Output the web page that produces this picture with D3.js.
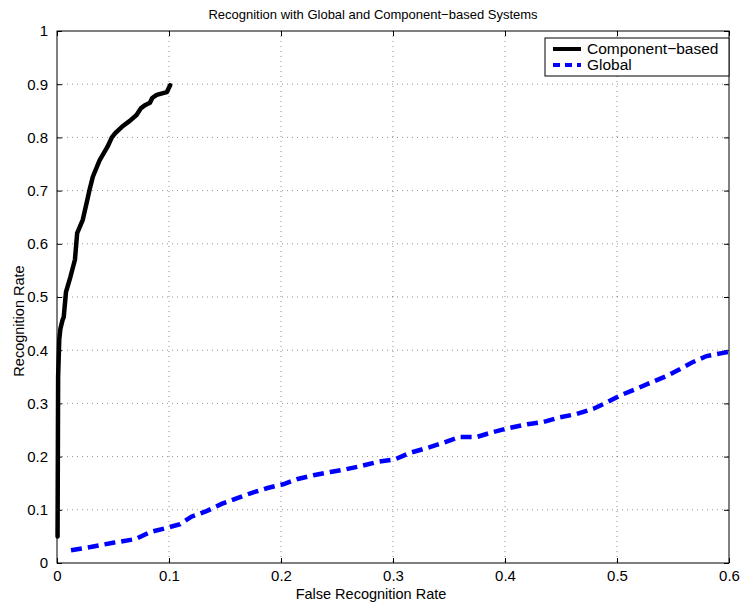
<!DOCTYPE html>
<meta charset="utf-8">
<script src="https://d3js.org/d3.v7.min.js"></script>
<style>
  body { margin: 0; background: #fff; }
  text { font-family: "Liberation Sans", Arial, Helvetica, sans-serif; }
</style>
<div id="chart"></div>
<script>

// Data
var compX = [0.0005, 0.001, 0.002, 0.003, 0.005, 0.006, 0.008, 0.012, 0.016, 0.018, 0.023, 0.027, 0.029, 0.032,
             0.038, 0.045, 0.049, 0.052, 0.058, 0.065, 0.071, 0.075, 0.079, 0.083, 0.085, 0.089, 0.098, 0.101];
var compY = [0.05, 0.35, 0.42, 0.44, 0.457, 0.462, 0.509, 0.538, 0.57, 0.62, 0.645, 0.682, 0.701, 0.726,
             0.757, 0.782, 0.8, 0.808, 0.82, 0.831, 0.842, 0.855, 0.861, 0.865, 0.874, 0.88, 0.885, 0.898];

var globX = [0.0125, 0.03, 0.05, 0.07, 0.083, 0.098, 0.11, 0.12, 0.134, 0.147, 0.161, 0.174, 0.188, 0.202,
             0.215, 0.229, 0.244, 0.255, 0.271, 0.286, 0.302, 0.315, 0.33, 0.345, 0.36, 0.375, 0.389, 0.404,
             0.42, 0.434, 0.449, 0.464, 0.479, 0.492, 0.504, 0.518, 0.529, 0.545, 0.556, 0.568, 0.58, 0.595, 0.6];
var globY = [0.024, 0.03, 0.038, 0.045, 0.058, 0.066, 0.073, 0.087, 0.098, 0.111, 0.122, 0.132, 0.141, 0.148,
             0.158, 0.165, 0.171, 0.175, 0.182, 0.19, 0.195, 0.207, 0.216, 0.226, 0.237, 0.237, 0.246, 0.254,
             0.261, 0.265, 0.274, 0.28, 0.29, 0.303, 0.316, 0.328, 0.338, 0.352, 0.364, 0.378, 0.389, 0.395, 0.397];

var xTicks = [0, 0.1, 0.2, 0.3, 0.4, 0.5, 0.6];
var yTicks = [0, 0.1, 0.2, 0.3, 0.4, 0.5, 0.6, 0.7, 0.8, 0.9, 1];
var seriesNames = ["Component\u2212based", "Global"];

var W = 742, H = 603;
var margin = {top: 31, right: 13, bottom: 40, left: 57},
    width = W - margin.left - margin.right,
    height = H - margin.top - margin.bottom;

var svg = d3.select("#chart")
  .append("svg")
    .attr("width", W)
    .attr("height", H);

var g = svg.append("g")
    .attr("transform", "translate(" + margin.left + "," + margin.top + ")");

var x = d3.scaleLinear().domain([0, 0.6]).range([0, width]);
var y = d3.scaleLinear().domain([0, 1]).range([height, 0]);

// dotted grid
g.append("g").selectAll("line")
  .data(xTicks.slice(1, -1))
  .enter().append("line")
    .attr("x1", function(d) { return x(d); })
    .attr("x2", function(d) { return x(d); })
    .attr("y1", 0).attr("y2", height)
    .attr("stroke", "#444").attr("stroke-width", 0.6)
    .attr("stroke-dasharray", "1,4");
g.append("g").selectAll("line")
  .data(yTicks.slice(1, -1))
  .enter().append("line")
    .attr("y1", function(d) { return y(d); })
    .attr("y2", function(d) { return y(d); })
    .attr("x1", 0).attr("x2", width)
    .attr("stroke", "#444").attr("stroke-width", 0.6)
    .attr("stroke-dasharray", "1,4");

// axes, ticks inside
var fmt = function(d) { return d3.format("")(d); };
var xb = g.append("g").attr("transform", "translate(0," + height + ")")
  .call(d3.axisBottom(x).tickValues(xTicks).tickSizeInner(-5).tickSizeOuter(0).tickPadding(7).tickFormat(fmt));
var yl = g.append("g")
  .call(d3.axisLeft(y).tickValues(yTicks).tickSizeInner(-5).tickSizeOuter(0).tickPadding(9).tickFormat(fmt));
var xt = g.append("g")
  .call(d3.axisTop(x).tickValues(xTicks).tickSizeInner(-5).tickSizeOuter(0).tickFormat(""));
var yr = g.append("g").attr("transform", "translate(" + width + ",0)")
  .call(d3.axisRight(y).tickValues(yTicks).tickSizeInner(-5).tickSizeOuter(0).tickFormat(""));

[xb, yl, xt, yr].forEach(function(a) {
  a.select(".domain").remove();
  a.selectAll("text").attr("font-size", 15).attr("fill", "#000")
    .style("font-family", "'Liberation Sans', Arial, sans-serif");
});

g.append("rect")
  .attr("width", width).attr("height", height)
  .attr("fill", "none").attr("stroke", "#000").attr("stroke-width", 1);

// curves
var line = d3.line()
  .x(function(d) { return x(d[0]); })
  .y(function(d) { return y(d[1]); });

g.append("path")
  .datum(d3.zip(globX, globY))
  .attr("d", line)
  .attr("fill", "none").attr("stroke", "#0000ff").attr("stroke-width", 4.5)
  .attr("stroke-dasharray", "11,6");

g.append("path")
  .datum(d3.zip(compX, compY))
  .attr("d", line)
  .attr("fill", "none").attr("stroke", "#000").attr("stroke-width", 4.5)
  .attr("stroke-linejoin", "round").attr("stroke-linecap", "round");

// titles
svg.append("text")
  .attr("x", 373).attr("y", 19)
  .attr("text-anchor", "middle").attr("font-size", 13)
  .text("Recognition with Global and Component\u2212based Systems");
svg.append("text")
  .attr("x", 371).attr("y", 599)
  .attr("text-anchor", "middle").attr("font-size", 14.5)
  .text("False Recognition Rate");
svg.append("text")
  .attr("transform", "translate(24,321) rotate(-90)")
  .attr("text-anchor", "middle").attr("font-size", 14.5)
  .text("Recognition Rate");

// legend
var leg = svg.append("g").attr("transform", "translate(545,38)");
leg.append("rect")
  .attr("width", 184).attr("height", 38)
  .attr("fill", "#fff").attr("stroke", "#000").attr("stroke-width", 1);
var colors = ["#000", "#0000ff"];
var dashes = [null, "7,5"];
seriesNames.forEach(function(name, i) {
  var yy = 11 + i * 16;
  leg.append("line")
    .attr("x1", 8).attr("x2", 36).attr("y1", yy).attr("y2", yy)
    .attr("stroke", colors[i]).attr("stroke-width", 4)
    .attr("stroke-dasharray", dashes[i]);
  leg.append("text")
    .attr("x", 42).attr("y", yy + 5)
    .attr("font-size", 15.5)
    .text(name);
});

</script>
